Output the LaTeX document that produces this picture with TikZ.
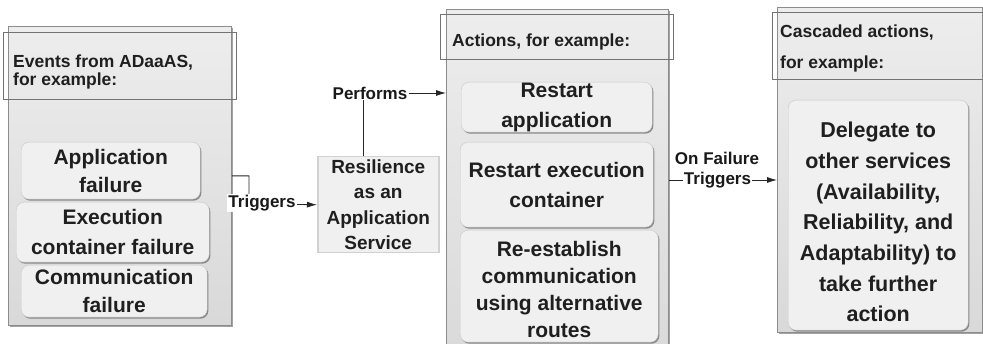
\documentclass[tikz,border=0pt]{standalone}
\usepackage{fontspec}
\setmainfont{Liberation Sans}
\usetikzlibrary{arrows.meta,shadows}

\tikzset{
	panelbox/.style={draw=black!45, line width=0.8pt, top color=black!7, bottom color=black!15, anchor=north west, inner sep=0pt,
		drop shadow={shadow xshift=2pt, shadow yshift=-2pt, fill=black!45, opacity=0.8}},
	headbox/.style={draw=black!55, line width=0.6pt, anchor=north west, inner sep=0pt},
	headtext/.style={anchor=west, align=left, inner sep=0pt, text=black!88, font=\bfseries\fontsize{17.5}{18}\selectfont},
	itembox/.style={draw=black!22, fill=black!6, rounded corners=8pt, anchor=north west, inner sep=0pt, align=center, text=black!88,
		drop shadow={shadow xshift=1.2pt, shadow yshift=-1.5pt, fill=black!50, opacity=0.9}, font=\bfseries\fontsize{21}{28}\selectfont},
	servicebox/.style={draw=black!18, line width=1.5pt, fill=black!6, anchor=north west, inner sep=0pt, align=center, text=black!88,
		font=\bfseries\fontsize{19}{25.5}\selectfont},
	lbl/.style={fill=white, inner sep=1pt, text=black!90, font=\bfseries\fontsize{17}{22}\selectfont},
	conn/.style={draw=black!85, line width=0.8pt},
	arrow/.style={conn, -{Latex[length=10pt,width=6pt]}},
}

\begin{document}
\begin{tikzpicture}[x=1pt, y=-1pt]
	%%%%% START %%%%%
	
	\useasboundingbox (0,0) rectangle (983,344);
	\clip (0,0) rectangle (983,344);
	
	% events
	\node[panelbox, minimum width=223pt, minimum height=299pt] (events) at (8,26) {};
	\node[headbox, minimum width=233pt, minimum height=67pt] (eventshd) at (3,32) {};
	\node[headtext] (eventstitle) at (13,72) {Events from ADaaAS,\\for example:};
	\node[itembox, minimum width=179pt, minimum height=57pt] (appfail) at (21,142) {Application\\failure};
	\node[itembox, minimum width=193pt, minimum height=60pt, font=\bfseries\fontsize{21}{30}\selectfont] (contfail) at (16,202) {Execution\\container failure};
	\node[itembox, minimum width=186pt, minimum height=52pt] (commfail) at (21,265) {Communication\\failure};
	
	% service
	\node[servicebox, minimum width=121pt, minimum height=96pt] (resil) at (317,156) {Resilience\\as an\\Application\\Service};
	
	% actions
	\node[panelbox, minimum width=222pt, minimum height=360pt] (actions) at (446,9) {};
	\node[headbox, minimum width=233pt, minimum height=45pt] (actionshd) at (440,14) {};
	\node[headtext] (actionstitle) at (452,42) {Actions, for example:};
	\node[itembox, minimum width=191pt, minimum height=50pt, font=\bfseries\fontsize{21}{30}\selectfont] (restartapp) at (461,82) {Restart\\application};
	\node[itembox, minimum width=193pt, minimum height=85pt, font=\bfseries\fontsize{21}{30}\selectfont] (restartcont) at (460,142) {Restart execution\\container};
	\node[itembox, minimum width=198pt, minimum height=112pt, text height=102pt, font=\bfseries\fontsize{21}{27}\selectfont] (reroute) at (460,230) {Re-establish\\communication\\using alternative\\routes};
	
	% cascaded actions
	\node[panelbox, minimum width=205pt, minimum height=325pt] (cascade) at (777,7) {};
	\node[headbox, minimum width=215pt, minimum height=67pt] (cascadehd) at (772,12) {};
	\node[headtext, font=\bfseries\fontsize{17.5}{31}\selectfont] (cascadetitle) at (780,48.5) {Cascaded actions,\\for example:};
	\node[itembox, minimum width=180pt, minimum height=230pt, text height=213.5pt, font=\bfseries\fontsize{21.5}{30.7}\selectfont] (delegate) at (788,100)
		{Delegate to\\other services\\(Availability,\\Reliability, and\\Adaptability) to\\take further\\action};
	
	% connectors
	\coordinate (trigbend) at (249,204);
	\draw[arrow] (events.east) -| (trigbend) -- (resil.west);
	\node[lbl] (trigger) at (262,203) {Triggers};
	
	\node[lbl] (perform) at (370,93) {Performs};
	\draw[conn] ([xshift=-14.5pt]resil.north) -- ([xshift=-14.5pt]resil.north |- perform.south);
	\draw[arrow] (perform.east) -- (perform.east -| actions.west);
	
	\node[lbl, fill=none] (onfail) at (717,158) {On Failure};
	\node[lbl] (onfailtrig) at (717.5,180) {Triggers};
	\draw[conn] (onfailtrig.west -| actions.east) -- (onfailtrig.west);
	\draw[arrow] (onfailtrig.east) -- (onfailtrig.east -| cascade.west);
	
	%%%%% END %%%%%
\end{tikzpicture}
\end{document}
